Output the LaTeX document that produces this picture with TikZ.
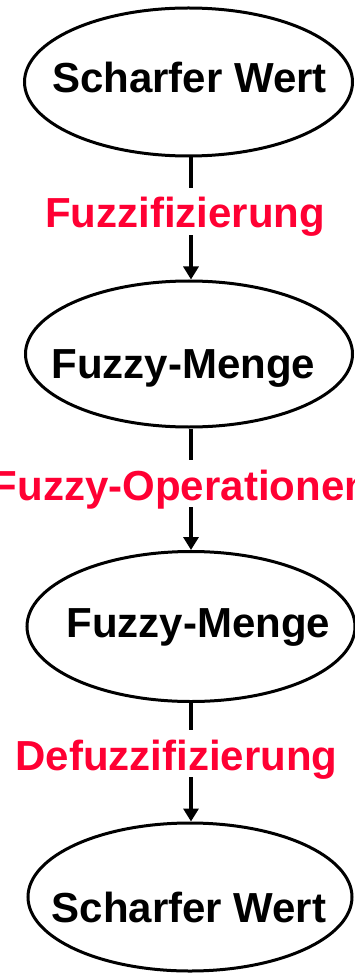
\documentclass[tikz,border=0pt]{standalone}
\usepackage{fontspec}
\setmainfont{Liberation Sans}
\usetikzlibrary{shapes.geometric,arrows.meta}
\definecolor{lblred}{RGB}{255,0,51}
\begin{document}
\begin{tikzpicture}[x=1pt,y=-1pt,
  state/.style={draw,ellipse,line width=3pt,inner sep=0pt},
  stext/.style={font=\fontsize{42}{50}\selectfont\bfseries,anchor=base,inner sep=0pt},
  ltext/.style={font=\fontsize{42}{50}\selectfont\bfseries,text=lblred,anchor=base,inner sep=0pt,text height=40pt,text depth=7pt},
  conn/.style={line width=4pt},
  arr/.style={line width=4pt,-{Triangle[length=13pt,width=15pt]}}]
\useasboundingbox (0,0) rectangle (355,973);
% ellipses
\node[state,minimum width=328pt,minimum height=148pt] (e1) at (188.5,82) {};
\node[state,minimum width=327pt,minimum height=146pt] (e2) at (189,354) {};
\node[state,minimum width=328pt,minimum height=150pt] (e3) at (191,626.5) {};
\node[state,minimum width=324pt,minimum height=148pt] (e4) at (190,897) {};
% texts
\node[stext] (t1) at (189.5,93) {Scharfer Wert};
\node[stext] (t2) at (183.5,378) {Fuzzy-Menge};
\node[stext] (t3) at (198.5,637) {Fuzzy-Menge};
\node[stext] (t4) at (189,922) {Scharfer Wert};
% labels
\node[ltext] (l1) at (185,228) {Fuzzifizierung};
\node[ltext] (l2) at (181,500) {Fuzzy-Operationen};
\node[ltext] (l3) at (176.5,770) {Defuzzifizierung};
% connectors
\coordinate (ax) at (191,0);
\draw[conn] (e1.south -| ax) -- (l1.north -| ax);
\draw[arr] (l1.south -| ax) -- (e2.north -| ax);
\draw[conn] (e2.south -| ax) -- (l2.north -| ax);
\draw[arr] (l2.south -| ax) -- (e3.north -| ax);
\draw[conn] (e3.south -| ax) -- (l3.north -| ax);
\draw[arr] (l3.south -| ax) -- (e4.north -| ax);
\end{tikzpicture}
\end{document}
